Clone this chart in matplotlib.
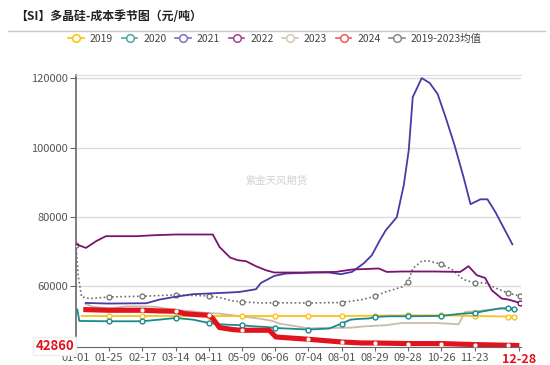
import numpy as np
import matplotlib
matplotlib.use('Agg')
from matplotlib import pyplot as plt
from matplotlib.lines import Line2D

plt.rcParams['font.family'] = ['Noto Sans CJK SC', 'DejaVu Sans']

# x positions in "tick interval" units (01-01 = 0, 01-25 = 1, ...)
tick_labels = ['01-01', '01-25', '02-17', '03-14', '04-11', '05-09', '06-06',
               '07-04', '08-01', '08-29', '09-28', '10-26', '11-23', '12-28']
tick_pos = [0, 1, 2, 3, 4, 5, 6, 7, 8, 9, 10, 11, 12, 13.35]

x2019 = [0.17, 1, 2, 3, 4, 5, 6, 7, 8, 9, 10, 11, 12, 13, 13.2]
y2019 = [51400, 51400, 51400, 51400, 51400, 51400, 51400, 51400, 51400, 51500,
         51600, 51600, 51400, 51250, 51250]

x2020 = [0.04, 0.1, 1, 2, 2.52, 3, 3.52, 4, 4.32, 5, 5.32, 5.72, 6, 7, 7.62, 8,
         8.27, 8.52, 8.82, 9, 9.42, 10, 11, 11.62, 12, 12.32, 12.77, 13, 13.2]
y2020 = [53260, 49970, 49880, 49880, 50360, 50830, 50360, 49390, 49000, 48730,
         48440, 48240, 47950, 47490, 47780, 49220, 50360, 50560, 50690, 51130,
         51320, 51320, 51420, 52090, 52280, 52860, 53620, 53620, 53530]

x2021 = [0.3, 0.96, 2.12, 2.52, 2.97, 3.51, 3.96, 4.62, 4.92, 5.42, 5.57, 5.97,
         6.32, 7.11, 7.62, 7.97, 8.31, 8.67, 8.91, 9.15, 9.33, 9.66, 9.87, 10.02,
         10.14, 10.41, 10.65, 10.89, 11.13, 11.4, 11.67, 11.88, 12.18, 12.39,
         12.63, 13.14]
y2021 = [55170, 55000, 55090, 56160, 56910, 57690, 57890, 58180, 58350, 59130,
         60950, 62980, 63670, 63960, 63960, 63470, 64130, 66650, 68960, 73290,
         76180, 79940, 89190, 99300, 114600, 120100, 118700, 115500, 108800,
         100700, 91500, 83700, 85100, 85100, 81400, 72100]

x2022 = [0.02, 0.3, 0.62, 0.9, 1.82, 2.37, 3.02, 4.12, 4.32, 4.64, 4.87, 5.12,
         5.42, 5.72, 5.97, 6.81, 7.82, 8.31, 9.12, 9.36, 9.81, 10.82, 11.57,
         11.82, 12.07, 12.32, 12.52, 12.82, 13.02, 13.37]
y2022 = [72050, 71070, 73090, 74450, 74450, 74740, 74940, 74940, 71360, 68290,
         67510, 67230, 65780, 64620, 63960, 63960, 64130, 64830, 65120, 64130,
         64250, 64250, 64130, 65780, 63180, 62400, 58840, 56440, 56150, 55170]

x2023 = [0.27, 0.52, 1.02, 1.52, 2.0, 2.42, 2.97, 3.52, 3.92, 4.32, 4.72, 5.12,
         5.52, 5.92, 6.12, 6.62, 7.02, 7.32, 7.82, 8.32, 8.72, 9.32, 9.82, 10.82,
         11.52, 11.72, 12.12, 12.52, 12.82, 13.27]
y2023 = [55000, 54030, 53560, 54200, 54200, 54030, 53060, 52770, 52280, 52110,
         51620, 51130, 50660, 49970, 49220, 48440, 47780, 47950, 47950, 48060,
         48440, 48730, 49390, 49390, 49020, 52570, 52860, 53260, 53550, 53260]

x2024 = [0.22, 1, 2, 2.52, 3, 3.27, 3.62, 4, 4.12, 4.32, 4.72, 5, 5.82, 6.02, 7,
         8, 8.62, 9, 10, 11, 12, 13, 13.35]
y2024 = [53260, 53060, 53060, 52860, 52770, 52090, 51800, 51620, 50660, 48060,
         47490, 47280, 47280, 45340, 44680, 43900, 43610, 43610, 43440, 43440,
         43150, 42950, 42860]

x_avg = [0, 0.07, 0.17, 0.42, 1, 2, 3, 4, 4.32, 4.72, 5, 5.62, 6, 7, 8, 8.62, 9,
         9.32, 9.82, 10, 10.14, 10.42, 10.62, 11, 11.32, 11.67, 12, 12.32,
         12.67, 13, 13.37]
y_avg = [72050, 62690, 56910, 56440, 56910, 57110, 57490, 57200, 56730, 55750,
         55460, 55170, 55230, 55170, 55290, 56160, 57110, 58350, 59800, 61240,
         65120, 67310, 67310, 66360, 64830, 61940, 60950, 60950, 59340, 58060,
         57110]


def on_ticks(xs):
    return [i for i, v in enumerate(xs) if float(v).is_integer()] + [len(xs) - 1]


fig = plt.figure(figsize=(5.5, 3.65), dpi=100)
ax = fig.add_axes([76 / 550, 1 - 347 / 365, 445 / 550, 272 / 365])

ax.plot(x2023, y2023, color='#c8bcab', lw=1.3, zorder=2)
ax.plot(x2019, y2019, color='#f7c21a', lw=1.3, zorder=3, marker='o', ms=3.5,
        mfc='white', mew=1, markevery=on_ticks(x2019))
ax.plot(x2020, y2020, color='#1a8a8e', lw=1.3, zorder=3, marker='o', ms=3.5,
        mfc='white', mew=1, markevery=on_ticks(x2020))
ax.plot(x_avg, y_avg, color='#6e6e6e', lw=1.2, ls=(0, (1, 1.5)), zorder=3,
        marker='o', ms=3.5, mfc='white', mew=0.9, markevery=on_ticks(x_avg))
ax.plot(x2021, y2021, color='#4a3aa6', lw=1.3, zorder=4)
ax.plot(x2022, y2022, color='#7c1270', lw=1.3, zorder=4, marker='o', ms=3.5,
        mfc='white', mew=1, markevery=[len(x2022) - 1])
ax.plot(x2024, y2024, color='#e0141e', lw=3.7, zorder=5, solid_capstyle='butt',
        marker='o', ms=2, mfc='white', mec='white', markevery=on_ticks(x2024)[1:-1])

ax.set_xlim(0, 13.4)
ax.set_ylim(42450, 121000)
ax.set_yticks([60000, 80000, 100000, 120000])
ax.yaxis.grid(True, color='#dcdcdc', lw=1)
ax.set_axisbelow(True)
ax.set_xticks(tick_pos)
ax.set_xticklabels(tick_labels)
ax.tick_params(axis='both', labelsize=8, labelcolor='#555555', color='#666666',
               length=4, pad=2)
ax.tick_params(axis='x', length=3, pad=1.5)
last = ax.get_xticklabels()[-1]
last.set_color('#e0141e')
last.set_fontweight('bold')
last.set_fontsize(9)
ax.spines['right'].set_visible(False)
ax.spines['top'].set_color('#dcdcdc')
ax.spines['left'].set_color('#666666')
ax.spines['bottom'].set_color('#666666')
ax.spines['left'].set_linewidth(1.2)

# last value label on the y axis
ax.text(-0.004, y2024[-1], f'{y2024[-1]}', transform=ax.get_yaxis_transform(),
        ha='right', va='center', color='#e0141e', fontsize=9.5, fontweight='bold',
        bbox=dict(boxstyle='square,pad=0.15', fc='white', ec='#eeeeee'), zorder=10)

ax.text(0.45, 0.61, '紫金天风期货', transform=ax.transAxes, ha='center', va='center',
        color='#d2d2d2', fontsize=7.5)

fig.text(15 / 550, 1 - 17 / 365, '【SI】多晶硅-成本季节图（元/吨）', ha='left', va='center',
         fontsize=8.6, fontweight='bold', color='#222222')
fig.add_artist(Line2D([8 / 550, 545 / 550], [1 - 31 / 365, 1 - 31 / 365],
                      color='#c8c8c8', lw=1))

names = ['2019', '2020', '2021', '2022', '2023', '2024', '2019-2023均值']
leg_colors = ['#ffc000', '#48a9ab', '#7a70c6', '#a8418e', '#d6c8b2', '#f05a5a', '#8a8a8a']
handles = [Line2D([], [], color=c, lw=1.2, marker='o', ms=5.5, mfc='white', mec=c, mew=1.1)
           for c in leg_colors]
fig.legend(handles, names, loc='center', bbox_to_anchor=(0.5, 1 - 39 / 365), ncol=7,
           frameon=False, fontsize=7.5, handlelength=1.5, handletextpad=0.55,
           columnspacing=0.85, labelcolor='#444444')

plt.savefig('out.png', dpi=100)
